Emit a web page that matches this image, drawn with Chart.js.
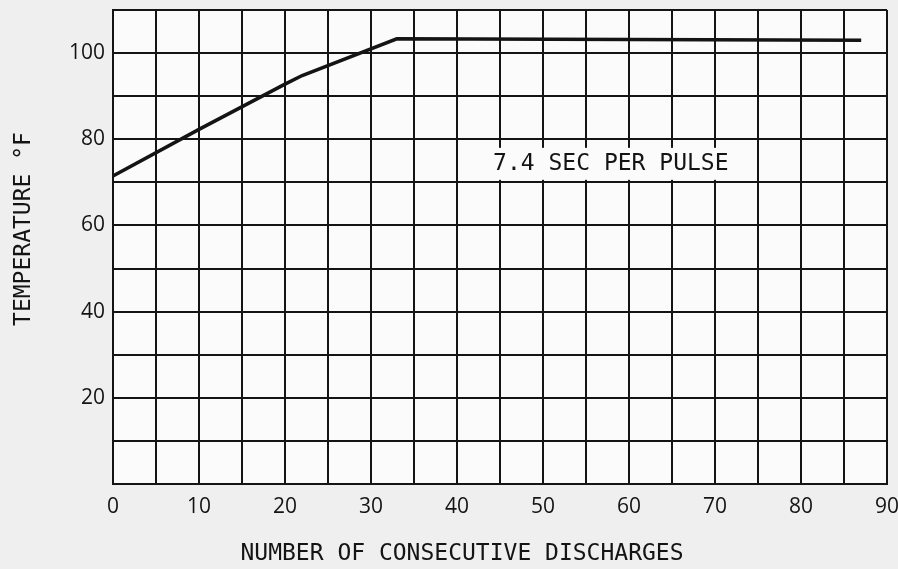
<!DOCTYPE html>
<html>
<head>
<meta charset="utf-8">
<script src="https://cdn.jsdelivr.net/npm/chart.js@4"></script>
<style>
  html, body { margin: 0; padding: 0; background: #efefef; overflow: hidden; }
  #wrap { width: 898px; height: 569px; position: relative; }
</style>
</head>
<body>
<div id="wrap"><canvas id="tempChart"></canvas></div>
<script>
"use strict";

// readings: discharges vs temperature (°F)
const discharges  = [0, 10, 20, 22, 33, 87];
const temperature = [71.5, 82.3, 92.8, 94.8, 103.3, 103];

const xTickLabels = [0, 10, 20, 30, 40, 50, 60, 70, 80, 90];
const yTickLabels = [20, 40, 60, 80, 100];

const xTitle = "NUMBER OF CONSECUTIVE DISCHARGES";
const yTitle = "TEMPERATURE °F";
const noteText = "7.4 SEC PER PULSE";
const notePos = { x: 44.2, y: 74.3 };

const ink = "#141414";
const monoFont = "'DejaVu Sans Mono'";
const tickFont = "'Open Sans'";

// paper look behind the plot + white plot area
const paperPlugin = {
    id: "paper",
    beforeDraw(chart) {
        const { ctx, chartArea: a } = chart;
        ctx.save();
        ctx.fillStyle = "#fbfbfb";
        ctx.fillRect(a.left, a.top, a.right - a.left, a.bottom - a.top);
        ctx.restore();
    }
};

// typed note on a blank patch of the grid, plus the two axis captions
const textPlugin = {
    id: "typed",
    afterDatasetsDraw(chart) {
        const { ctx, scales: { x, y } } = chart;
        ctx.save();
        ctx.font = `23px ${monoFont}`;
        ctx.textBaseline = "middle";

        const px = x.getPixelForValue(notePos.x);
        const py = y.getPixelForValue(notePos.y);
        const w = ctx.measureText(noteText).width;
        ctx.fillStyle = "#fbfbfb";
        ctx.fillRect(px - 4, py - 16, w + 8, 32);
        ctx.fillStyle = ink;
        ctx.textAlign = "left";
        ctx.fillText(noteText, px, py);

        // x caption, sits a bit left of centre in the scan
        ctx.textAlign = "center";
        ctx.fillText(xTitle, 462, 554);

        // y caption, rotated
        ctx.translate(24, 229);
        ctx.rotate(-Math.PI / 2);
        ctx.fillText(yTitle, 0, 0);
        ctx.restore();
    }
};

const chart = new Chart(document.getElementById("tempChart"), {
    type: "line",
    data: {
        datasets: [{
            data: discharges.map((d, i) => ({ x: d, y: temperature[i] })),
            borderColor: ink,
            borderWidth: 3.5,
            pointRadius: 0,
            fill: false,
            tension: 0
        }]
    },
    options: {
        responsive: true,
        maintainAspectRatio: false,
        animation: false,
        layout: { padding: { top: 10, right: 11, left: 0, bottom: 0 } },
        plugins: { legend: { display: false }, tooltip: { enabled: false } },
        scales: {
            x: {
                type: "linear",
                min: 0, max: 90,
                border: { color: ink, width: 2 },
                grid: { color: ink, lineWidth: 2, drawTicks: false },
                ticks: {
                    stepSize: 5,
                    color: ink,
                    padding: 10,
                    maxRotation: 0,
                    autoSkip: false,
                    font: { family: tickFont, size: 21 },
                    callback: v => xTickLabels.includes(v) ? String(v) : ""
                },
                afterFit: s => { s.height = 85; s.paddingRight = 0; s.paddingLeft = 0; }
            },
            y: {
                min: 0, max: 110,
                border: { color: ink, width: 2 },
                grid: { color: ink, lineWidth: 2, drawTicks: false },
                ticks: {
                    stepSize: 10,
                    color: ink,
                    padding: 8,
                    autoSkip: false,
                    font: { family: tickFont, size: 21 },
                    callback: v => yTickLabels.includes(v) ? String(v) : ""
                },
                afterFit: s => { s.width = 113; s.paddingTop = 0; s.paddingBottom = 0; }
            }
        }
    },
    plugins: [paperPlugin, textPlugin]
});
</script>
</body>
</html>
